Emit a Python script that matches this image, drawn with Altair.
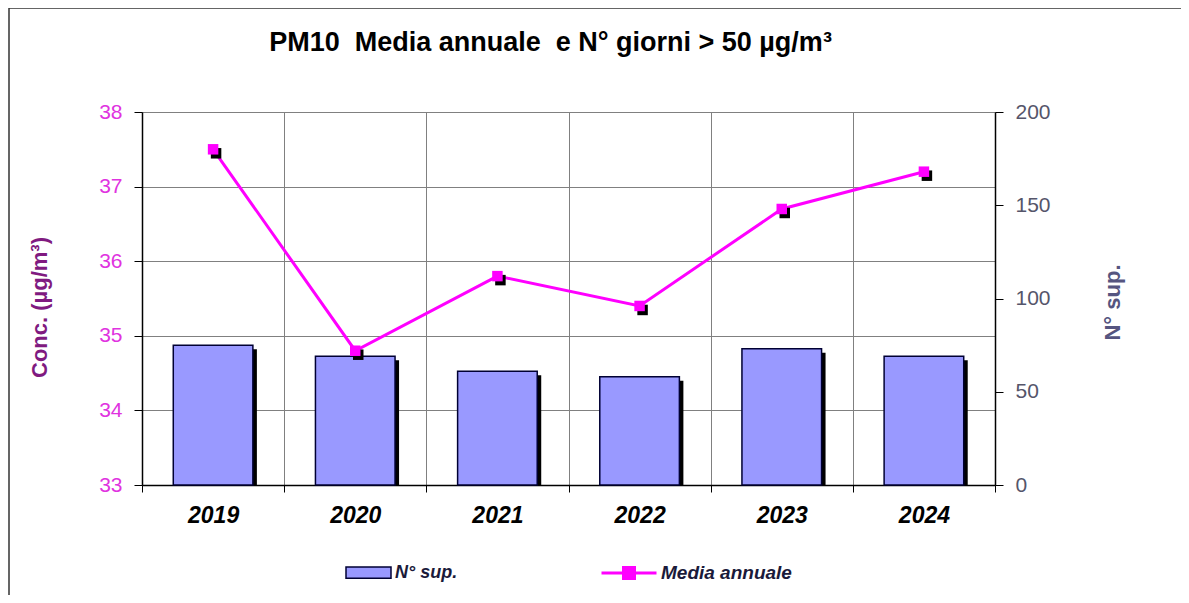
import altair as alt
import pandas as pd

anni = ["2019", "2020", "2021", "2022", "2023", "2024"]
giorni_sup = [75, 69, 61, 58, 73, 69]
media_annuale = [37.5, 34.8, 35.8, 35.4, 36.7, 37.2]

df = pd.DataFrame({
    "anno": anni,
    "giorni": giorni_sup,
    "media": media_annuale,
    "s1": ["N° sup."] * len(anni),
    "s2": ["Media annuale"] * len(anni),
})

FONT = "Liberation Sans"
W, H = 853, 373

x_enc = alt.X(
    "anno:N", sort=anni, title=None,
    scale=alt.Scale(paddingInner=0, paddingOuter=0),
    axis=alt.Axis(
        tickBand="extent", grid=True, gridColor="#808080", gridWidth=1,
        domainColor="#000000", domainWidth=1.5, tickColor="#000000", tickSize=7,
        labelFont=FONT, labelFontSize=23, labelFontWeight="bold", labelFontStyle="italic",
        labelColor="#000000", labelPadding=12, labelAngle=0,
    ),
)

y_right = alt.Y(
    "giorni:Q", title="N° sup.",
    scale=alt.Scale(domain=[0, 200], nice=False, zero=True),
    axis=alt.Axis(
        orient="right", values=[0, 50, 100, 150, 200], grid=False,
        domainColor="#000000", domainWidth=1.5, tickColor="#000000", tickSize=8,
        labelFont=FONT, labelFontSize=21, labelColor="#55556a", labelPadding=12,
        titleFont=FONT, titleFontSize=22, titleFontWeight="bold", titleColor="#555580",
        titleAngle=270, titleX=117, titleY=190, titleAlign="center", titleBaseline="middle",
    ),
)

y_left = alt.Y(
    "media:Q", title="Conc. (µg/m³)",
    scale=alt.Scale(domain=[33, 38], nice=False, zero=False),
    axis=alt.Axis(
        orient="left", values=[33, 34, 35, 36, 37, 38], grid=True, gridColor="#808080", gridWidth=1,
        domainColor="#000000", domainWidth=1.5, tickColor="#000000", tickSize=8,
        labelFont=FONT, labelFontSize=21, labelColor="#e033e0", labelPadding=12,
        titleFont=FONT, titleFontSize=22, titleFontWeight="bold", titleColor="#801a80",
        titleAngle=270, titleX=-103, titleY=195, titleAlign="center", titleBaseline="middle",
    ),
)

base = alt.Chart(df)

bar_shadow = base.mark_bar(color="#000000", xOffset=4, yOffset=4, clip=True,
                           width=alt.RelativeBandSize(0.56)).encode(x=x_enc, y=y_right)
bars = base.mark_bar(stroke="#000033", strokeWidth=1.5, width=alt.RelativeBandSize(0.56)).encode(
    x=x_enc, y=y_right,
    color=alt.Color("s1:N", scale=alt.Scale(domain=["N° sup."], range=["#9999ff"]),
                    legend=alt.Legend(
                        title=None, orient="none", legendX=203, legendY=437, padding=0,
                        symbolType="M-1,-0.25H1V0.25H-1Z", symbolSize=2025,
                        symbolStrokeColor="#000033", symbolStrokeWidth=1.5,
                        labelFont=FONT, labelFontSize=18, labelFontStyle="italic",
                        labelFontWeight="bold", labelColor="#1a1a3a", labelOffset=3)),
)

line = base.mark_line(strokeWidth=3).encode(
    x=x_enc, y=y_left,
    stroke=alt.Stroke("s2:N", scale=alt.Scale(domain=["Media annuale"], range=["#ff00ff"]),
                      legend=alt.Legend(
                          title=None, orient="none", legendX=458, legendY=432, padding=0,
                          symbolType="M-1,0H1M-0.2,-0.2H0.2V0.2H-0.2Z", symbolSize=3025,
                          symbolFillColor="#ff00ff", symbolStrokeWidth=3,
                          labelFont=FONT, labelFontSize=19, labelFontStyle="italic",
                          labelFontWeight="bold", labelColor="#1a1a3a", labelOffset=3)),
)
pt_shadow = base.mark_point(shape="square", filled=True, size=110, color="#000000", opacity=1,
                            xOffset=3, yOffset=4).encode(x=x_enc, y=y_left)
pts = base.mark_point(shape="square", filled=True, size=110, color="#ff00ff", opacity=1).encode(
    x=x_enc, y=y_left)

frame = alt.Chart(alt.Data(values=[{"f": 1}])).mark_rect(
    fillOpacity=0, stroke="#333333", strokeWidth=1.5
).encode(x=alt.value(-133), x2=alt.value(1300), y=alt.value(-104), y2=alt.value(700))

right_layer = alt.layer(bar_shadow, bars)
left_layer = alt.layer(line, pt_shadow, pts)

chart = alt.layer(frame, right_layer, left_layer).resolve_scale(
    y="independent", color="independent", stroke="independent"
).resolve_legend(color="independent", stroke="independent").properties(
    width=W, height=H,
    autosize=alt.AutoSizeParams(type="none"),
    padding={"left": 134, "top": 104, "right": 186, "bottom": 110},
    title=alt.TitleParams(
        "PM10\u00a0\u00a0Media annuale\u00a0\u00a0e N° giorni > 50 µg/m³",
        font=FONT, fontSize=27, fontWeight="bold", color="#000000",
        anchor="middle", frame="group", dx=-18, offset=0, dy=71, baseline="alphabetic",
    ),
).configure_view(fill="#c0c0c0", stroke=None).configure(background="#ffffff")

chart.save("out.html", embed_options={"renderer": "svg", "actions": False})
